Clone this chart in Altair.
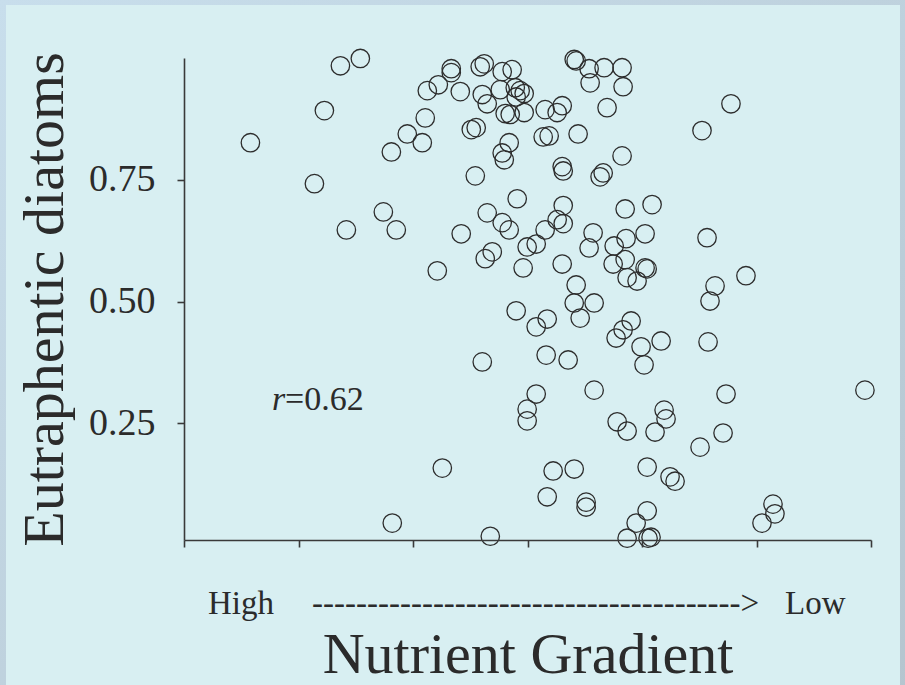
import altair as alt
import pandas as pd

# Position along the nutrient gradient (0 = high nutrients, 6 = low nutrients)
gradient_pos = [
    0.580, 1.139, 1.226, 1.366, 1.540, 1.418, 1.741, 1.854, 1.811, 1.950,
    2.081, 2.107, 2.125, 2.221, 2.334, 2.334, 2.413, 2.587, 2.622, 2.779,
    2.866, 2.605, 2.648, 2.762, 2.893, 2.936, 2.971, 2.901, 2.805, 2.849,
    2.971, 3.154, 3.259, 3.303, 2.509, 2.552, 2.840, 2.779, 2.797, 2.544,
    3.137, 3.189, 3.442, 3.303, 3.312, 3.634, 3.661, 3.826, 3.408, 3.425,
    3.538, 3.669, 3.826, 3.547, 3.835, 3.695, 4.777, 4.524,
    2.910, 2.648, 2.779, 2.840, 2.421, 2.692, 2.631, 2.212, 2.962, 3.303,
    3.312, 3.259, 3.312, 3.154, 3.076, 2.997, 3.425, 3.573, 3.538, 3.757,
    3.861, 3.853, 4.088, 4.027, 3.748, 3.853, 4.027, 4.045, 3.870, 3.957,
    4.568, 4.908, 4.638, 4.594,
    2.901, 3.076, 3.172, 3.408, 3.582, 3.460, 3.774, 3.835, 3.905, 3.992,
    4.167, 4.018, 4.577, 2.605, 3.163, 3.355, 3.582, 3.076, 2.997, 2.997,
    3.783, 3.870, 4.193, 4.210, 4.114, 4.507, 4.708, 4.734, 5.947, 2.256,
    3.224, 3.408, 3.172, 3.512, 3.512, 4.045, 4.245, 4.289, 4.045, 3.949,
    3.870, 4.053, 4.079, 2.675, 1.819, 5.144, 5.161, 5.048,
]

# Relative abundance of eutraphentic diatoms at each site
eutraphentic = [
    0.826, 0.742, 0.892, 0.984, 0.999, 0.647, 0.684, 0.647, 0.807, 0.844,
    0.826, 0.877, 0.933, 0.945, 0.978, 0.970, 0.931, 0.982, 0.988, 0.972,
    0.976, 0.925, 0.906, 0.935, 0.939, 0.933, 0.927, 0.920, 0.886, 0.884,
    0.888, 0.894, 0.888, 0.902, 0.853, 0.857, 0.826, 0.805, 0.791, 0.758,
    0.838, 0.840, 0.844, 0.777, 0.768, 0.756, 0.764, 0.799, 0.997, 0.994,
    0.978, 0.980, 0.980, 0.949, 0.941, 0.898, 0.906, 0.851,
    0.711, 0.682, 0.662, 0.647, 0.639, 0.602, 0.588, 0.563, 0.569, 0.577,
    0.697, 0.668, 0.660, 0.647, 0.618, 0.612, 0.534, 0.641, 0.610, 0.614,
    0.629, 0.690, 0.699, 0.639, 0.577, 0.586, 0.569, 0.567, 0.549, 0.542,
    0.631, 0.553, 0.532, 0.501,
    0.481, 0.448, 0.464, 0.497, 0.497, 0.466, 0.425, 0.442, 0.460, 0.407,
    0.419, 0.370, 0.417, 0.376, 0.390, 0.380, 0.318, 0.310, 0.279, 0.255,
    0.253, 0.234, 0.277, 0.259, 0.232, 0.201, 0.230, 0.310, 0.318, 0.158,
    0.152, 0.156, 0.099, 0.088, 0.078, 0.160, 0.140, 0.131, 0.070, 0.045,
    0.014, 0.014, 0.016, 0.018, 0.045, 0.084, 0.064, 0.045,
]

y_ticks = [0.25, 0.50, 0.75]
x_ticks = [0, 1, 2, 3, 4, 5, 6]

sites = pd.DataFrame({"gradient": gradient_pos, "eutraphentic": eutraphentic})

W, H = 687, 482
LEFT, TOP = 184, 58
SERIF = "Liberation Serif"
INK = "#2b2b2b"

one_row = alt.Chart(pd.DataFrame({"k": [0]}))

# Bluish border around the pale panel (stroke only, so the axes stay visible)
frame = one_row.mark_rect(
    fillOpacity=0,
    strokeWidth=12,
    stroke=alt.Gradient(
        gradient="linear",
        x1=0, y1=0, x2=1, y2=1,
        stops=[
            alt.GradientStop(offset=0, color="#c8deec"),
            alt.GradientStop(offset=1, color="#b5c5cf"),
        ],
    ),
).encode(
    x=alt.value(-LEFT), x2=alt.value(905 - LEFT + 1),
    y=alt.value(-TOP - 1), y2=alt.value(685 - TOP + 20),
)

scatter = alt.Chart(sites).mark_point(
    shape="circle", filled=False, size=340,
    stroke="#2d2d2d", strokeWidth=1.3, opacity=1,
).encode(
    x=alt.X(
        "gradient:Q",
        scale=alt.Scale(domain=[0, 6], nice=False, zero=False),
        axis=alt.Axis(values=x_ticks, labels=False, tickSize=7, title="",
                      grid=False, zindex=1),
    ),
    y=alt.Y(
        "eutraphentic:Q",
        scale=alt.Scale(domain=[0.0103, 1.0], nice=False, zero=False),
        axis=alt.Axis(
            values=y_ticks, format=".2f", tickSize=7, grid=False, zindex=1,
            labelPadding=22, labelFontSize=38, labelFont=SERIF, labelColor=INK,
            title="Eutraphentic diatoms", titleFont=SERIF, titleFontSize=58,
            titleFontWeight="normal", titleColor=INK,
            titleAngle=270, titleAlign="center", titleBaseline="alphabetic",
            titleX=62 - LEFT, titleY=299 - TOP,
        ),
    ),
)


def label(text, x, y, size, align="left", style="normal"):
    return one_row.mark_text(
        align=align, baseline="alphabetic", font=SERIF, fontSize=size,
        fontStyle=style, color=INK,
    ).encode(x=alt.value(x), y=alt.value(y), text=alt.value(text))


texts = [
    label("High", 208 - LEFT, 614 - TOP, 33),
    label("-" * 39 + ">", 312 - LEFT, 614 - TOP, 33),
    label("Low", 785 - LEFT, 614 - TOP, 33),
    label("Nutrient Gradient", 528 - LEFT, 673 - TOP, 58, align="center"),
    label("r", 272 - LEFT, 410 - TOP, 34, style="italic"),
    label("=0.62", 285 - LEFT, 410 - TOP, 34),
]

chart = alt.layer(scatter, frame, *texts).properties(
    width=W,
    height=H,
    padding={"left": LEFT, "top": TOP, "right": 905 - LEFT - W, "bottom": 685 - TOP - H},
    autosize=alt.AutoSizeParams(type="none"),
    background="#d8eff2",
).configure_view(
    strokeWidth=0
).configure_axis(
    domainColor="#3a3a3a", tickColor="#3a3a3a", domainWidth=1.6, tickWidth=1.6,
)

chart.save("out.html", embed_options={"renderer": "svg", "actions": False})
